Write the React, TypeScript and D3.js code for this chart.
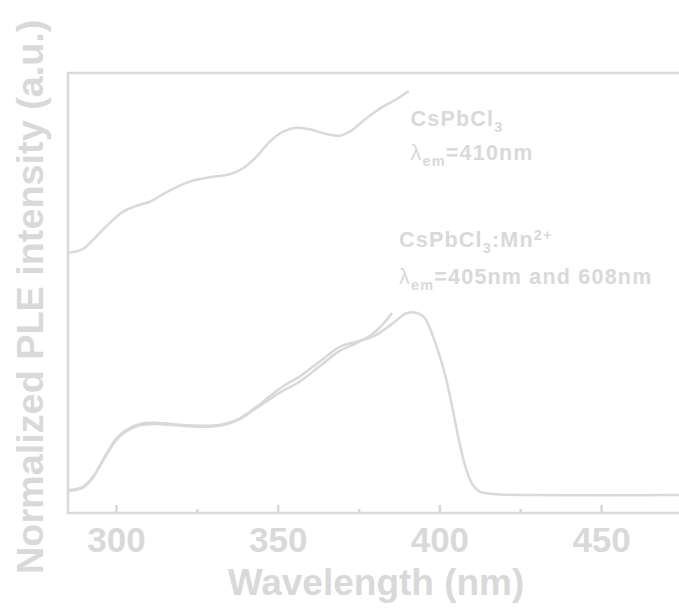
import React from "react";
import * as d3 from "d3";

// ---- data ----
const topWl = [285.5, 289.6, 292.7, 297.9, 302, 306.2, 310.3, 315.4, 322.6, 328.8, 335, 339.1, 343.3, 347.4, 351.5, 355.6, 359.7, 364.9, 369, 372.1, 377.3, 382.4, 386.5, 390.1];
const topPle = [1.338, 1.358, 1.408, 1.502, 1.564, 1.597, 1.619, 1.671, 1.73, 1.754, 1.771, 1.804, 1.868, 1.951, 2.006, 2.028, 2.019, 1.993, 1.984, 2.006, 2.08, 2.144, 2.185, 2.227];

const mnWl608 = [285.5, 289.6, 292.7, 295.8, 300, 303, 307.2, 311.3, 316.5, 322.6, 328.8, 334, 338.1, 343.3, 347.4, 351.5, 356.6, 362.8, 369, 374.2, 379.3, 385.5, 389.6, 392.7, 395.3, 397.9, 400, 402, 404, 406.1, 408.2, 410.2, 412.3, 416.4, 424.7, 480];
const mnPle608 = [0.027, 0.045, 0.1, 0.193, 0.313, 0.358, 0.392, 0.399, 0.392, 0.384, 0.382, 0.395, 0.423, 0.487, 0.545, 0.6, 0.653, 0.736, 0.818, 0.846, 0.874, 0.948, 1.003, 1.006, 0.977, 0.874, 0.763, 0.635, 0.469, 0.285, 0.137, 0.055, 0.018, 0.005, 0.0, 0.0];

const mnWl405 = [285.5, 289.6, 292.7, 295.8, 300, 303, 307.2, 311.3, 316.5, 322.6, 328.8, 334, 338.1, 343.3, 350.5, 356.6, 362.8, 369, 374.2, 379.3, 383.5, 385];
const mnPle405 = [0.022, 0.04, 0.095, 0.188, 0.305, 0.35, 0.384, 0.392, 0.387, 0.379, 0.377, 0.39, 0.418, 0.48, 0.565, 0.625, 0.71, 0.795, 0.838, 0.89, 0.965, 1.0];

const majorTicks = [300, 350, 400, 450];
const minorTicks = [325, 375, 425, 475];
const xTitle = "Wavelength (nm)";
const yTitle = "Normalized PLE intensity (a.u.)";

const W = 679;
const H = 608;
const GRAY = "#d9d9d9";
const FONT = "'Liberation Sans', Arial, sans-serif";

export default function App() {
  const x = d3.scaleLinear().domain([285, 480]).range([68, 698.6]);
  const y = d3.scaleLinear().domain([-0.1, 2.33]).range([513, 73]);

  const line = d3
    .line<[number, number]>()
    .x((d) => x(d[0]))
    .y((d) => y(d[1]))
    .curve(d3.curveCatmullRom.alpha(0.5));

  const series = [
    d3.zip(topWl, topPle) as [number, number][],
    d3.zip(mnWl608, mnPle608) as [number, number][],
    d3.zip(mnWl405, mnPle405) as [number, number][],
  ];

  const [x0, x1] = x.range();
  const [yb, yt] = y.range();

  return (
    <svg
      width={W}
      height={H}
      style={{ position: "absolute", left: 0, top: 0, background: "#fff" }}
      fontFamily={FONT}
    >
      <rect x={0} y={0} width={W} height={H} fill="#fff" />
      {/* frame */}
      <rect x={x0} y={yt} width={x1 - x0} height={yb - yt} fill="none" stroke={GRAY} strokeWidth={2.5} />
      {/* ticks */}
      {majorTicks.map((t) => (
        <line key={"M" + t} x1={x(t)} x2={x(t)} y1={yb} y2={yb - 8} stroke={GRAY} strokeWidth={2.5} />
      ))}
      {minorTicks.map((t) => (
        <line key={"m" + t} x1={x(t)} x2={x(t)} y1={yb} y2={yb - 4} stroke={GRAY} strokeWidth={2.5} />
      ))}
      {majorTicks.map((t) => (
        <text key={"L" + t} x={x(t)} y={552} textAnchor="middle" fontSize={35} fontWeight="bold" fill={GRAY}>
          {t}
        </text>
      ))}
      {/* curves */}
      {series.map((s, i) => (
        <path key={i} d={line(s) || ""} fill="none" stroke={GRAY} strokeWidth={2.5} strokeLinecap="round" />
      ))}
      {/* axis titles */}
      <text x={376} y={595} textAnchor="middle" fontSize={37} fontWeight="bold" fill={GRAY}>
        {xTitle}
      </text>
      <text
        transform="translate(42.5,574) rotate(-90)"
        x={0}
        y={0}
        textAnchor="start"
        fontSize={37.8}
        fontWeight="bold"
        fill={GRAY}
      >
        {yTitle}
      </text>
      {/* annotations */}
      <g fill={GRAY} fontWeight="bold" fontSize={21.5} letterSpacing={1.2}>
        <text x={410.5} y={126}>
          CsPbCl
          <tspan fontSize={14.5} dy={6}>3</tspan>
        </text>
        <text x={410.5} y={160}>
          <tspan fontWeight="normal">λ</tspan>
          <tspan fontSize={14.5} dy={6}>em</tspan>
          <tspan dy={-6}>=410nm</tspan>
        </text>
        <text x={399} y={247}>
          CsPbCl
          <tspan fontSize={14.5} dy={6}>3</tspan>
          <tspan dy={-6}>:Mn</tspan>
          <tspan fontSize={14.5} dy={-7}>2+</tspan>
        </text>
        <text x={399} y={284}>
          <tspan fontWeight="normal">λ</tspan>
          <tspan fontSize={14.5} dy={6}>em</tspan>
          <tspan dy={-6}>=405nm and 608nm</tspan>
        </text>
      </g>
    </svg>
  );
}
